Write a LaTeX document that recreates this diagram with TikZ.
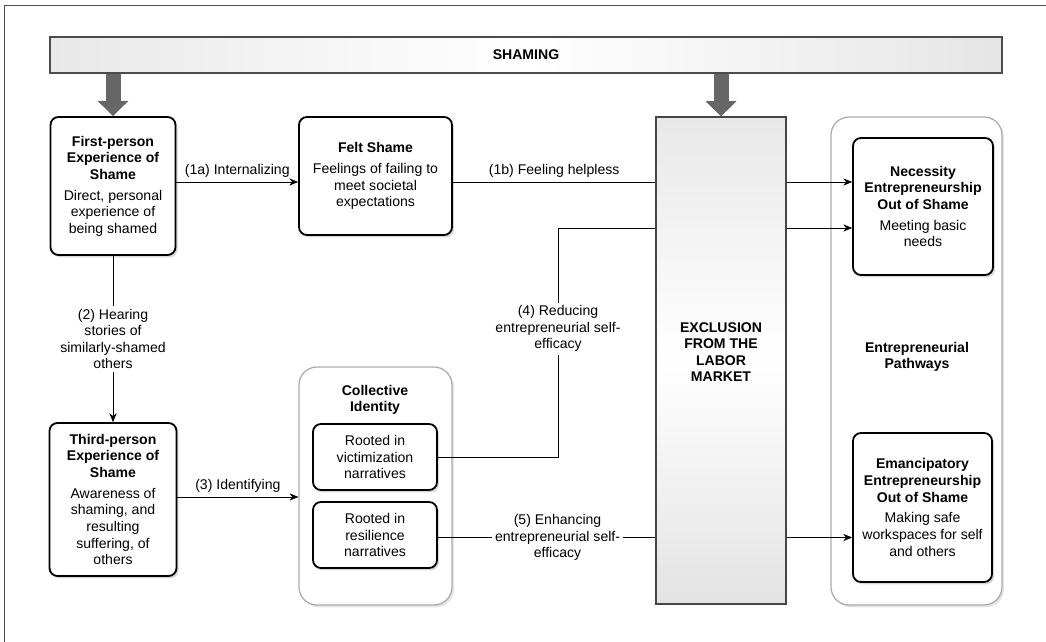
\documentclass[tikz,border=0pt]{standalone}
\usepackage{fontspec}
\setmainfont{Liberation Sans}
\usetikzlibrary{arrows.meta,shadows}

\begin{document}
\begin{tikzpicture}[x=1cm,y=1cm,>={Stealth[length=2.2mm,width=1.8mm]},
  font=\fontsize{10}{11.8}\selectfont,
  box/.style={draw, line width=1.3pt, rounded corners=0.2cm, fill=white, align=center,
    drop shadow={shadow xshift=0.05cm, shadow yshift=-0.06cm, opacity=0.3}},
  group/.style={draw=gray!65, line width=0.9pt, rounded corners=0.45cm, fill=white,
    drop shadow={shadow xshift=0.05cm, shadow yshift=-0.06cm, opacity=0.2}},
  lbl/.style={fill=white, align=center, inner sep=2pt},
  bigarrow/.style={draw=gray!80!black, line width=0.375cm, -{Triangle[length=0.38cm, width=0.75cm]}}]

  \useasboundingbox (0,0) rectangle (26.15,16.05);
  \draw[gray!60!black, line width=0.6pt] (0.1,0) -- (0.1,15.925) -- (26.15,15.925);

  \node[draw=gray!60!black, line width=0.8pt, left color=gray!18, right color=gray!20, middle color=white,
    minimum width=23.8cm, minimum height=0.9cm, font=\bfseries] (shaming) at (13.15,14.675) {SHAMING};

  % left column
  \node[box, minimum width=3.125cm, minimum height=3.45cm] (first) at (2.825,11.4)
    {\textbf{First-person}\\\textbf{Experience of}\\\textbf{Shame}\\[3pt]Direct, personal\\experience of\\being shamed};
  \node[box, minimum width=3.175cm, minimum height=3.825cm] (third) at (2.825,3.5625)
    {\textbf{Third-person}\\\textbf{Experience of}\\\textbf{Shame}\\[3pt]Awareness of\\shaming, and\\resulting\\suffering, of\\others};

  % middle
  \node[box, minimum width=3.825cm, minimum height=2.95cm] (felt) at (9.3875,11.65)
    {\textbf{Felt Shame}\\[3pt]Feelings of failing to\\meet societal\\expectations};
  \node[group, minimum width=3.825cm, minimum height=5.95cm] (coll) at (9.3875,3.9) {};
  \node[align=center, font=\fontsize{10}{11.8}\selectfont\bfseries] (colltxt) at (9.375,6.05) {Collective\\Identity};
  \node[box, minimum width=3.1cm, minimum height=1.65cm] (vict) at (9.375,4.625)
    {Rooted in\\victimization\\narratives};
  \node[box, minimum width=3.1cm, minimum height=1.65cm] (res) at (9.375,2.675)
    {Rooted in\\resilience\\narratives};

  % exclusion
  \node[draw=gray!55!black, line width=0.8pt, top color=gray!18, bottom color=gray!22, middle color=white,
    minimum width=3.25cm, minimum height=12.175cm] (excl) at (18.025,7.0375) {};
  \node[align=center, font=\fontsize{10}{11.8}\selectfont\bfseries] (excltxt) at (18.025,7.25)
    {EXCLUSION\\FROM THE\\LABOR\\MARKET};

  % right column
  \node[group, minimum width=4.275cm, minimum height=12.2cm] (paths) at (22.9125,7.025) {};
  \node[align=center, font=\fontsize{10}{11.8}\selectfont\bfseries] (pathtxt) at (22.925,7.125)
    {Entrepreneurial\\Pathways};
  \node[box, minimum width=3.5cm, minimum height=3.425cm] (nec) at (23.075,10.8875)
    {\textbf{Necessity}\\\textbf{Entrepreneurship}\\\textbf{Out of Shame}\\[3pt]Meeting basic\\needs};
  \node[box, minimum width=3.475cm, minimum height=3.725cm] (emanc) at (23.0625,3.3625)
    {\textbf{Emancipatory}\\\textbf{Entrepreneurship}\\\textbf{Out of Shame}\\[3pt]Making safe\\workspaces for self\\and others};

  % shaming arrows
  \draw[bigarrow] (shaming.south -| first.north) -- (first.north);
  \draw[bigarrow] (shaming.south -| excl.north) -- (excl.north);

  % connectors
  \coordinate (y1) at (0,11.5);
  \coordinate (y3) at (0,3.625);
  \coordinate (y4) at (13.95,10.35);
  \coordinate (y5) at (0,2.6125);

  \draw[->] (first.east |- y1) -- node[above] {(1a) Internalizing} (felt.west |- y1);
  \draw (felt.east |- y1) -- node[above] {(1b) Feeling helpless} (excl.west |- y1);
  \draw[->] (excl.east |- y1) -- (nec.west |- y1);

  \draw[->] (first.south) -- node[lbl] {(2) Hearing\\stories of\\similarly-shamed\\others} (third.north);
  \draw[->] (third.east |- y3) -- node[above] {(3) Identifying} (coll.west |- y3);

  \draw (vict.east) -| node[lbl, pos=0.78] {(4) Reducing\\entrepreneurial self-\\efficacy} (y4) -- (excl.west |- y4);
  \draw[->] (excl.east |- y4) -- (nec.west |- y4);

  \draw (res.east |- y5) -- node[lbl, pos=0.55] {(5) Enhancing\\entrepreneurial self-\\efficacy} (excl.west |- y5);
  \draw[->] (excl.east |- y5) -- (emanc.west |- y5);
\end{tikzpicture}
\end{document}
